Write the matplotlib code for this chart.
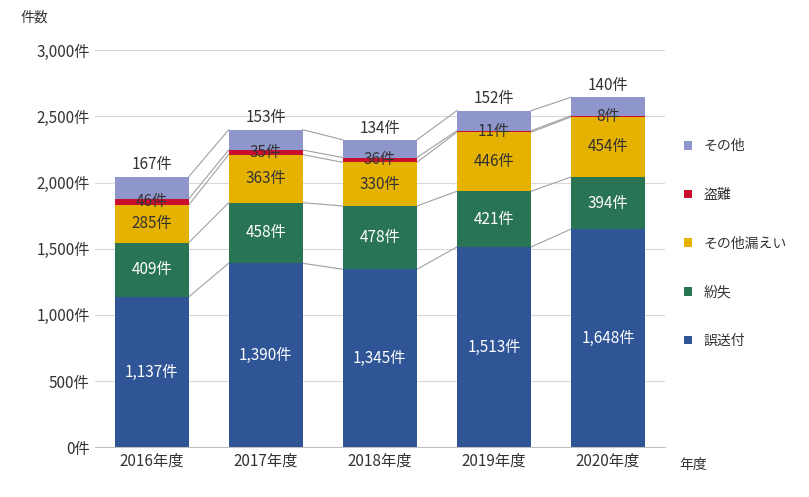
import numpy as np
import matplotlib.pyplot as plt
from matplotlib.ticker import FuncFormatter

plt.rcParams['font.family'] = ['Noto Sans CJK JP', 'DejaVu Sans']

years = ['2016年度', '2017年度', '2018年度', '2019年度', '2020年度']
series_names = ['誤送付', '紛失', 'その他漏えい', '盗難', 'その他']
gosofu = [1137, 1390, 1345, 1513, 1648]
funshitsu = [409, 458, 478, 421, 394]
sonota_roei = [285, 363, 330, 446, 454]
tonan = [46, 35, 36, 11, 8]
sonota = [167, 153, 134, 152, 140]
colors = ['#2F5597', '#2A7456', '#E5B200', '#C8102E', '#8E96CC']
label_colors = ['white', 'white', '#333333', '#333333', '#333333']

data = [gosofu, funshitsu, sonota_roei, tonan, sonota]

fig = plt.figure(figsize=(8.09, 4.97), dpi=100)
ax = fig.add_axes([0.117, 0.100, 0.705, 0.799])
x = np.arange(len(years))
w = 0.65
bottom = np.zeros(len(years))
for vals, name, c, lc in zip(data, series_names, colors, label_colors):
    vals = np.array(vals)
    ax.bar(x, vals, w, bottom=bottom, color=c, label=name, zorder=3)
    top = bottom + vals
    # series lines
    for i in range(len(x) - 1):
        ax.plot([x[i] + w / 2, x[i + 1] - w / 2], [top[i], top[i + 1]],
                color='#A0A0A0', lw=0.8, zorder=2)
    for i in range(len(x)):
        if name == 'その他':
            ax.text(x[i], top[i] + 25, f'{vals[i]:,}件', ha='center', va='bottom',
                    fontsize=11, color='#333333', zorder=4)
        else:
            ax.text(x[i], bottom[i] + vals[i] / 2, f'{vals[i]:,}件', ha='center',
                    va='center', fontsize=11, color=lc, zorder=4)
    bottom = top

ax.set_xlim(-0.5, len(years) - 0.5)
ax.set_ylim(0, 3000)
ax.set_yticks(range(0, 3001, 500))
ax.yaxis.set_major_formatter(FuncFormatter(lambda v, p: f'{int(v):,}件'))
ax.set_xticks(x)
ax.set_xticklabels(years)
ax.tick_params(length=0, labelsize=11, colors='#333333')
ax.grid(axis='y', color='#D9D9D9', lw=0.8, zorder=0)
for s in ['top', 'right', 'left']:
    ax.spines[s].set_visible(False)
ax.spines['bottom'].set_color('#BFBFBF')

fig.text(0.025, 0.965, '件数', fontsize=10, color='#333333', va='center')
fig.text(0.84, 0.065, '年度', fontsize=10, color='#333333', va='center')

h, l = ax.get_legend_handles_labels()
fig.legend(h[::-1], l[::-1], loc='center left', bbox_to_anchor=(0.83, 0.51),
           frameon=False, fontsize=10, handlelength=0.6, handleheight=0.6,
           labelspacing=2.5, labelcolor='#333333')

fig.savefig('out.png', dpi=100)
